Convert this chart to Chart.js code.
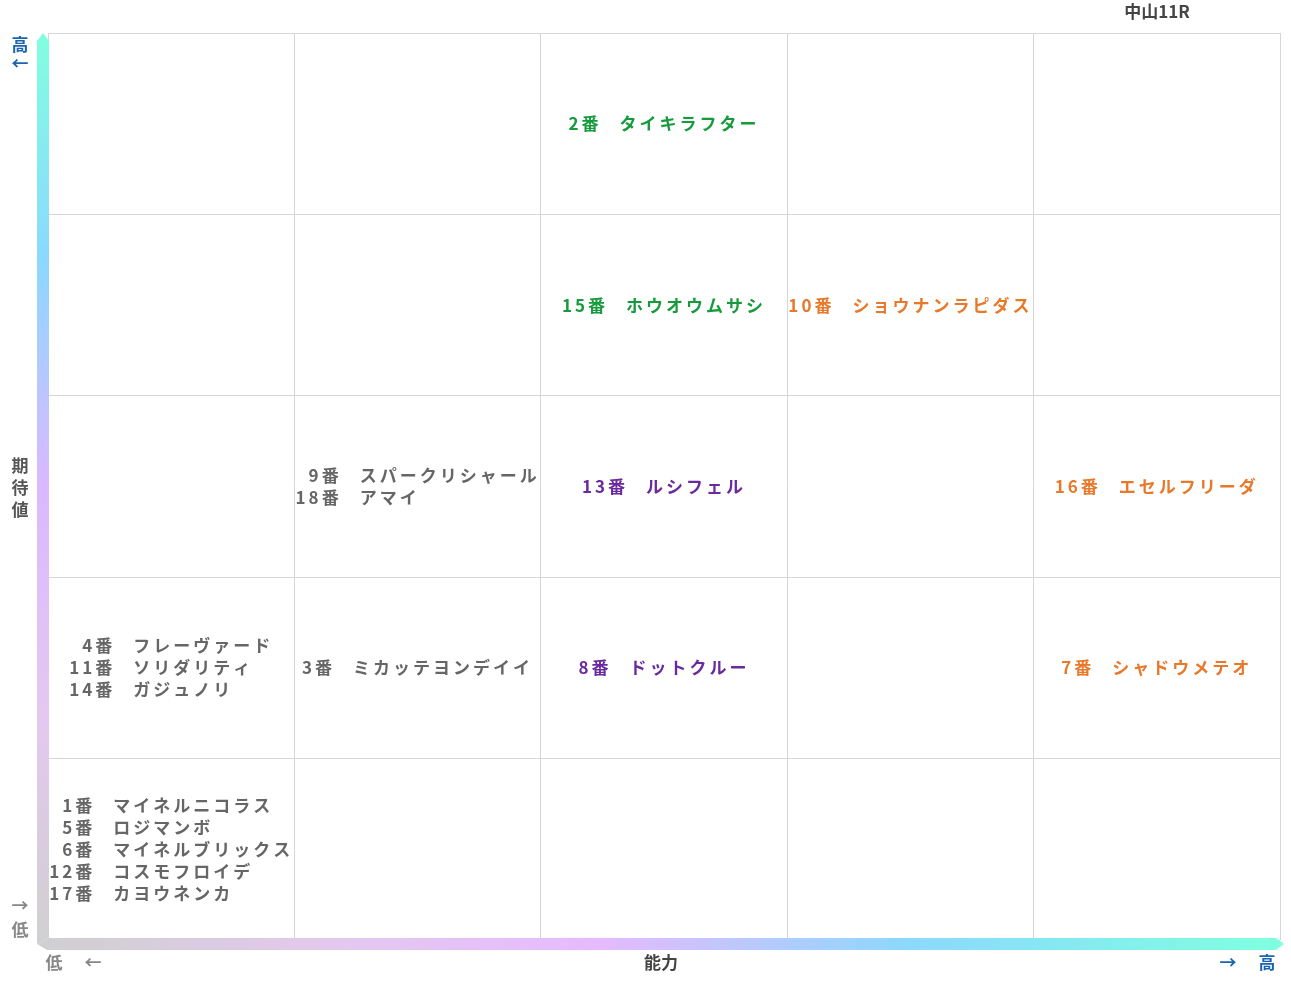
<!DOCTYPE html>
<html>
<head>
<meta charset="utf-8">
<script src="https://cdn.jsdelivr.net/npm/chart.js@4/dist/chart.umd.min.js"></script>
<style>
  html, body { margin: 0; padding: 0; background: #fff; }
  #wrap { width: 1291px; height: 983px; }
</style>
</head>
<body>
<div id="wrap"><canvas id="myChart" width="1291" height="983"></canvas></div>
<script>
var title = "中山11R";
// cell columns: ability (0..4), rows: expectation (0..4)
var horseNums = ["2番", "15番", "10番", "9番", "18番", "13番", "16番", "4番", "11番", "14番", "3番", "8番", "7番", "1番", "5番", "6番", "12番", "17番"];
var horseNames = ["タイキラフター", "ホウオウムサシ", "ショウナンラピダス", "スパークリシャール", "アマイ", "ルシフェル", "エセルフリーダ", "フレーヴァード", "ソリダリティ", "ガジュノリ", "ミカッテヨンデイイ", "ドットクルー", "シャドウメテオ", "マイネルニコラス", "ロジマンボ", "マイネルブリックス", "コスモフロイデ", "カヨウネンカ"];
var abilityCell = [2, 2, 3, 1, 1, 2, 4, 0, 0, 0, 1, 2, 4, 0, 0, 0, 0, 0];
var expectCell = [4, 3, 3, 2, 2, 2, 2, 1, 1, 1, 1, 1, 1, 0, 0, 0, 0, 0];
var horseColors = ["#159a3c", "#159a3c", "#e8782a", "#666666", "#666666", "#6a2a9e", "#e8782a", "#666666", "#666666", "#666666", "#666666", "#6a2a9e", "#e8782a", "#666666", "#666666", "#666666", "#666666", "#666666"];

var FONT = 'bold 17px "Noto Sans CJK JP"';

var labelPlugin = {
    id: 'cellLabels',
    afterDatasetsDraw: function(chart) {
        var ctx = chart.ctx;
        var xs = chart.scales.x, ys = chart.scales.y;
        var a = chart.chartArea;
        ctx.save();
        ctx.font = FONT;
        ctx.letterSpacing = '3px';
        ctx.textBaseline = 'middle';
        // group by cell
        var groups = {};
        horseNums.forEach(function(n, i) {
            var k = abilityCell[i] + '_' + expectCell[i];
            (groups[k] = groups[k] || []).push(i);
        });
        Object.keys(groups).forEach(function(k) {
            var idx = groups[k];
            var cx = xs.getPixelForValue(abilityCell[idx[0]] + 0.5);
            var cy = ys.getPixelForValue(expectCell[idx[0]] + 0.5);
            var numW = 0, nameW = 0, gap = 18;
            idx.forEach(function(i) {
                numW = Math.max(numW, ctx.measureText(horseNums[i]).width);
                nameW = Math.max(nameW, ctx.measureText(horseNames[i]).width);
            });
            var left = cx - (numW + gap + nameW) / 2;
            var lh = 22;
            var y0 = cy - (idx.length - 1) * lh / 2;
            idx.forEach(function(i, j) {
                ctx.fillStyle = horseColors[i];
                ctx.textAlign = 'right';
                ctx.fillText(horseNums[i], left + numW, y0 + j * lh);
                ctx.textAlign = 'left';
                ctx.fillText(horseNames[i], left + numW + gap, y0 + j * lh);
            });
        });
        ctx.restore();

        // gradient axes
        ctx.save();
        var ox = a.left - 6, oy = a.bottom + 4;
        var gv = ctx.createLinearGradient(0, oy, 0, a.top);
        gv.addColorStop(0, '#d0d0d0');
        gv.addColorStop(0.25, '#e4c8f0');
        gv.addColorStop(0.5, '#dcb8ff');
        gv.addColorStop(0.75, '#8cd8ff');
        gv.addColorStop(1, '#80ffe0');
        ctx.fillStyle = gv;
        ctx.beginPath();
        ctx.moveTo(ox - 5, oy);
        ctx.lineTo(ox - 5, a.top + 8);
        ctx.lineTo(ox + 1, a.top);
        ctx.lineTo(ox + 7, a.top + 8);
        ctx.lineTo(ox + 7, oy - 6);
        ctx.closePath();
        ctx.fill();
        var gh = ctx.createLinearGradient(ox, 0, a.right, 0);
        gh.addColorStop(0, '#d0d0d0');
        gh.addColorStop(0.25, '#e4c8f0');
        gh.addColorStop(0.45, '#e6baff');
        gh.addColorStop(0.7, '#8cd8ff');
        gh.addColorStop(1, '#80ffe0');
        ctx.fillStyle = gh;
        ctx.beginPath();
        ctx.moveTo(ox - 5, oy);
        ctx.lineTo(ox + 7, oy - 6);
        ctx.lineTo(a.right - 4, oy - 6);
        ctx.lineTo(a.right + 4, oy);
        ctx.lineTo(a.right - 4, oy + 6);
        ctx.lineTo(ox + 5, oy + 6);
        ctx.closePath();
        ctx.fill();
        ctx.restore();

        // axis texts
        ctx.save();
        ctx.font = 'bold 17px "Noto Sans CJK JP"';
        ctx.textAlign = 'center';
        ctx.textBaseline = 'middle';
        ctx.fillStyle = '#444';
        ctx.fillText(title, 1157, 12);
        ctx.fillText('能力', 661, 963);
        ctx.fillStyle = '#1a64b0';
        ctx.fillText('高', 20, 45);
        ctx.fillText('←', 20, 64);
        ctx.fillText('→', 1228, 963);
        ctx.fillText('高', 1267, 963);
        ctx.fillStyle = '#555';
        ctx.fillText('期', 20, 466);
        ctx.fillText('待', 20, 488);
        ctx.fillText('値', 20, 510);
        ctx.fillStyle = '#888';
        ctx.fillText('→', 20, 906);
        ctx.fillText('低', 20, 930);
        ctx.fillText('低', 54, 963);
        ctx.fillText('←', 93, 963);
        ctx.restore();
    }
};

new Chart(document.getElementById('myChart').getContext('2d'), {
    type: 'scatter',
    data: { datasets: [{ data: [], pointRadius: 0 }] },
    options: {
        responsive: false,
        animation: false,
        layout: { padding: { left: 48, top: 33, right: 11, bottom: 43 } },
        plugins: { legend: { display: false }, tooltip: { enabled: false } },
        scales: {
            x: {
                min: 0, max: 5,
                ticks: { display: false, stepSize: 1 },
                grid: { color: '#d6d6d6', lineWidth: 1, drawTicks: false },
                border: { display: false }
            },
            y: {
                min: 0, max: 5,
                ticks: { display: false, stepSize: 1 },
                grid: { color: '#d6d6d6', lineWidth: 1, drawTicks: false },
                border: { display: false }
            }
        }
    },
    plugins: [labelPlugin]
});
</script>
</body>
</html>
